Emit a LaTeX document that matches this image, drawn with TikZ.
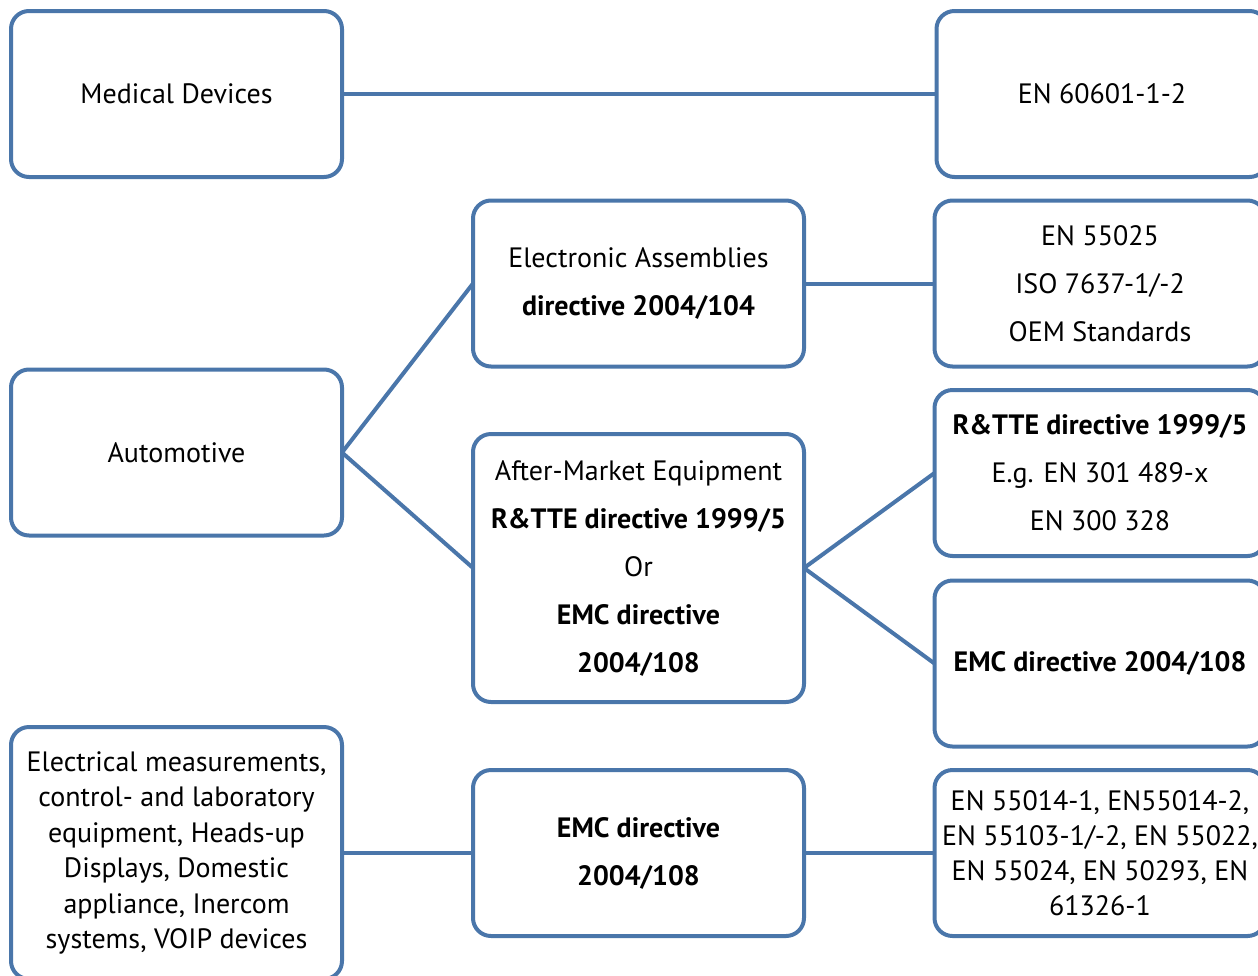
\documentclass[tikz,border=0pt]{standalone}
\usepackage{fontspec}
\setmainfont{PT Sans}
\definecolor{boxblue}{RGB}{74,118,170}
\begin{document}
\begin{tikzpicture}[x=1pt,y=-1pt,
  box/.style={draw=boxblue, line width=4pt, rounded corners=18pt, fill=white,
    rectangle, align=center, inner sep=0pt, outer sep=0pt,
    minimum width=331pt, minimum height=166pt,
    font=\fontsize{28}{48}\selectfont},
  link/.style={draw=boxblue, line width=4pt}]
\useasboundingbox (0,0) rectangle (1258,975);
\clip (0,0) rectangle (1258,975);
% nodes
\node[box] (med) at (176.5,94) {Medical Devices};
\node[box] (en606) at (1102,94) {EN 60601-1-2};
\node[box] (ea) at (638.5,283.5) {Electronic Assemblies\\\textbf{directive 2004/104}};
\node[box] (en550) at (1100,283.5) {EN 55025\\ISO 7637-1/-2\\OEM Standards};
\node[box] (auto) at (176.5,452.5) {Automotive};
\node[box, minimum height=268pt] (am) at (638.5,568) {After-Market Equipment\\\textbf{R\&TTE directive 1999/5}\\Or\\\textbf{EMC directive}\\\textbf{2004/108}};
\node[box] (rtte) at (1100,473) {\textbf{R\&TTE directive 1999/5}\\E.g. EN 301 489-x\\EN 300 328};
\node[box] (emc) at (1100,663.5) {\textbf{EMC directive 2004/108}};
\node[box, minimum height=252pt, font=\fontsize{28}{35.4}\selectfont] (elec) at (176.5,853) {Electrical measurements,\\control- and laboratory\\equipment, Heads-up\\Displays, Domestic\\appliance, Inercom\\systems, VOIP devices};
\node[box] (emcmid) at (638.5,853) {\textbf{EMC directive}\\\textbf{2004/108}};
\node[box, font=\fontsize{28}{35.2}\selectfont] (std) at (1100,853) {EN 55014-1, EN55014-2,\\EN 55103-1/-2, EN 55022,\\EN 55024, EN 50293, EN\\61326-1};
% connectors
\draw[link] (med.east) -- (en606.west);
\draw[link] (ea.east) -- (en550.west);
\draw[link] (auto.east) -- (ea.west);
\draw[link] (auto.east) -- (am.west);
\draw[link] (am.east) -- (rtte.west);
\draw[link] (am.east) -- (emc.west);
\draw[link] (elec.east) -- (emcmid.west);
\draw[link] (emcmid.east) -- (std.west);
\end{tikzpicture}
\end{document}
